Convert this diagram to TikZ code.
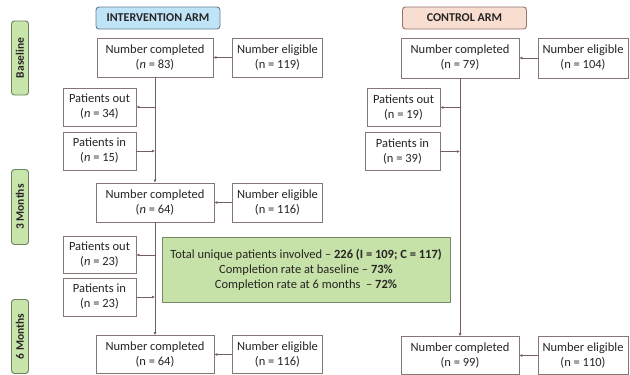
\documentclass[tikz,border=0pt]{standalone}
\usepackage{fontspec}
\setmainfont{Carlito}
\usepackage{xcolor}
\usepackage{tikz}
\usetikzlibrary{arrows.meta, positioning}
\definecolor{boxline}{RGB}{135, 118, 118}
\definecolor{flowline}{RGB}{115, 95, 95}
\definecolor{inktext}{RGB}{40, 36, 36}
\definecolor{armblue}{RGB}{192, 228, 247}
\definecolor{armblueline}{RGB}{105, 125, 145}
\definecolor{armpink}{RGB}{248, 221, 209}
\definecolor{armpinkline}{RGB}{150, 118, 108}
\definecolor{taggreen}{RGB}{200, 229, 172}
\definecolor{taggreenline}{RGB}{105, 130, 95}
\definecolor{notegreen}{RGB}{198, 226, 168}
\definecolor{notegreenline}{RGB}{120, 138, 100}
\tikzset{
    box/.style     ={draw=boxline, line width=0.9pt, fill=white, inner sep=0pt,
                     minimum width=118pt, minimum height=39pt, align=center,
                     text=inktext, font=\fontsize{12.5}{15}\selectfont},
    sidebox/.style ={box, minimum width=73pt, minimum height=38pt},
    eligbox/.style ={box, minimum width=90pt},
    arm/.style     ={draw=armblueline, line width=0.9pt, fill=armblue, inner sep=0pt,
                     rounded corners=3pt, minimum width=124pt, minimum height=22pt,
                     text=inktext, font=\fontsize{12}{13}\selectfont\bfseries},
    tag/.style     ={draw=taggreenline, line width=0.9pt, fill=taggreen, inner sep=0pt,
                     rounded corners=3pt, rotate=90, minimum height=17pt,
                     text=inktext, font=\fontsize{11.5}{12}\selectfont\bfseries},
    note/.style    ={draw=notegreenline, line width=0.9pt, fill=notegreen, inner sep=0pt,
                     minimum width=288pt, minimum height=65pt, align=center,
                     text=inktext, font=\fontsize{12.5}{15}\selectfont},
    ar/.style      ={-{Latex[length=3pt, width=3pt]}, line width=0.8pt, draw=flowline},
    ln/.style      ={line width=0.8pt, draw=flowline}
}
\newcommand{\ncount}[1]{(n = #1)}
\newcommand{\ncountit}[1]{(\textit{n} = #1)}

\begin{document}
\begin{tikzpicture}[x=1pt, y=-1pt]
  \fill[white] (0,0) rectangle (630,375);
  \useasboundingbox (0,0) rectangle (630,375);

  % time points
  \node[tag, minimum width=74pt] (tbase) at (20, 58)    {Baseline};
  \node[tag, minimum width=75pt] (t3m)   at (20, 207)   {3 Months};
  \node[tag, minimum width=74pt] (t6m)   at (20, 336.5) {6 Months};

  % arm headers
  \node[arm] (iarm) at (158, 18) {INTERVENTION ARM};
  \node[arm, fill=armpink, draw=armpinkline] (carm) at (464.5, 18) {CONTROL ARM};

  % intervention arm
  \node[box, minimum width=116pt] (c0i) at (155, 57.5) {Number completed\\\ncountit{83}};
  \node[eligbox] (e0i) at (277.5, 57.5) {Number eligible\\\ncount{119}};
  \node[sidebox] (po1i) at (99.5, 107) {Patients out\\\ncountit{34}};
  \node[sidebox] (pi1i) at (99.5, 151) {Patients in\\\ncountit{15}};
  \node[box] (c1i) at (155, 202.5) {Number completed\\\ncountit{64}};
  \node[eligbox] (e1i) at (277.5, 202.5) {Number eligible\\\ncount{116}};
  \node[sidebox, minimum height=37pt] (po2i) at (99.5, 255) {Patients out\\\ncountit{23}};
  \node[sidebox] (pi2i) at (99.5, 297) {Patients in\\\ncount{23}};
  \node[box, minimum height=38pt] (c2i) at (155, 354.5) {Number completed\\\ncount{64}};
  \node[eligbox, minimum height=38pt] (e2i) at (277.5, 354.5) {Number eligible\\\ncount{116}};

  % control arm
  \node[box, minimum height=40pt] (c0c) at (460, 58) {Number completed\\\ncount{79}};
  \node[eligbox, minimum height=40pt] (e0c) at (583, 58) {Number eligible\\\ncount{104}};
  \node[sidebox] (po1c) at (403.5, 107.5) {Patients out\\\ncount{19}};
  \node[sidebox, minimum width=75pt] (pi1c) at (402.5, 151.5) {Patients in\\\ncount{39}};
  \node[box, minimum height=38pt] (c2c) at (460, 355.5) {Number completed\\\ncount{99}};
  \node[eligbox, minimum height=38pt] (e2c) at (583, 355.5) {Number eligible\\\ncount{110}};

  % summary
  \node[note] (sum) at (306, 269.5)
    {Total unique patients involved -- \textbf{226 (I = 109; C = 117)}\\
     Completion rate at baseline -- \textbf{73\%}\\
     Completion rate at 6 months\ \ -- \textbf{72\%}};

  % intervention flow
  \draw[ar] (e0i) -- (c0i);
  \draw[ar] (e1i) -- (c1i);
  \draw[ar] (e2i) -- (c2i);
  \draw[ar] (c0i.south) -- (c1i.north);
  \draw[ar] (c1i.south) -- (c2i.north);
  \draw[ar] (po1i.east -| c0i.south) -- (po1i.east);
  \draw[ar] (pi1i.east) -- (pi1i.east -| c0i.south);
  \draw[ar] (po2i.east -| c1i.south) -- (po2i.east);
  \draw[ar] (pi2i.east) -- (pi2i.east -| c1i.south);

  % control flow
  \draw[ar] (e0c) -- (c0c);
  \draw[ar] (e2c) -- (c2c);
  \draw[ar] (c0c.south) -- (c2c.north);
  \draw[ar] (po1c.east -| c0c.south) -- (po1c.east);
  \draw[ar] (pi1c.east) -- (pi1c.east -| c0c.south);
\end{tikzpicture}
\end{document}
